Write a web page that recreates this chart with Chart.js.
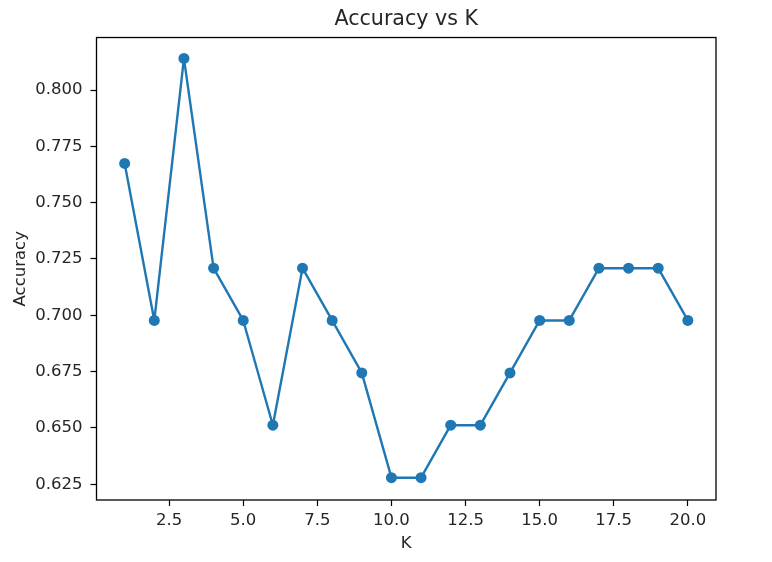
<!DOCTYPE html>
<html>
<head>
<meta charset="utf-8">
<script src="https://cdn.jsdelivr.net/npm/chart.js@4/dist/chart.umd.min.js"></script>
<style>
  html, body { margin: 0; padding: 0; background: #ffffff; }
  #wrap { width: 772px; height: 562px; }
</style>
</head>
<body>
<div id="wrap"><canvas id="c" width="772" height="562"></canvas></div>
<script>
// Data
const kValues = [1, 2, 3, 4, 5, 6, 7, 8, 9, 10, 11, 12, 13, 14, 15, 16, 17, 18, 19, 20];
const accuracy = [0.7674, 0.6977, 0.8140, 0.7209, 0.6977, 0.6512, 0.7209, 0.6977, 0.6744, 0.6279,
                  0.6279, 0.6512, 0.6512, 0.6744, 0.6977, 0.6977, 0.7209, 0.7209, 0.7209, 0.6977];
const xTicks = [2.5, 5.0, 7.5, 10.0, 12.5, 15.0, 17.5, 20.0];
const yTicks = [0.625, 0.650, 0.675, 0.700, 0.725, 0.750, 0.775, 0.800];
const chartTitle = 'Accuracy vs K';
const xTitle = 'K';
const yTitle = 'Accuracy';

const FONT = 'DejaVu Sans';
const TEXT = '#262626';

const framePlugin = {
  id: 'frame',
  afterDatasetsDraw(chart) {
    const a = chart.chartArea, ctx = chart.ctx;
    ctx.save();
    ctx.strokeStyle = '#000000';
    ctx.lineWidth = 1.3;
    ctx.strokeRect(a.left, a.top, a.right - a.left, a.bottom - a.top);
    ctx.restore();
  }
};

new Chart(document.getElementById('c'), {
  type: 'line',
  data: {
    datasets: [{
      data: kValues.map((k, i) => ({ x: k, y: accuracy[i] })),
      borderColor: '#1f77b4',
      backgroundColor: '#1f77b4',
      borderWidth: 2.4,
      borderJoinStyle: 'round',
      borderCapStyle: 'round',
      pointRadius: 5.5,
      pointBorderWidth: 0,
      pointBackgroundColor: '#1f77b4',
      tension: 0,
      fill: false
    }]
  },
  options: {
    responsive: false,
    animation: false,
    layout: { padding: { left: 0, right: 56, top: 0, bottom: 0 } },
    plugins: {
      legend: { display: false },
      tooltip: { enabled: false },
      title: {
        display: true,
        text: chartTitle,
        fullSize: false,
        color: TEXT,
        font: { family: FONT, size: 20.6, weight: 'normal', lineHeight: 1.2 },
        padding: { top: 7.2, bottom: 5.6 }
      }
    },
    scales: {
      x: {
        type: 'linear',
        min: 0.05,
        max: 20.95,
        afterBuildTicks(scale) { scale.ticks = xTicks.map(v => ({ value: v })); },
        afterFit(scale) { scale.height = 62; },
        ticks: {
          includeBounds: false,
          color: TEXT,
          padding: 4.7,
          maxRotation: 0,
          autoSkip: false,
          font: { family: FONT, size: 16.5 },
          callback: v => Number(v).toFixed(1)
        },
        grid: { display: true, drawOnChartArea: false, tickLength: 6, tickColor: '#000000', tickWidth: 1.2 },
        border: { display: false },
        title: {
          display: true,
          text: xTitle,
          color: TEXT,
          font: { family: FONT, size: 16.5, lineHeight: 1.2 },
          padding: { top: 0, bottom: 8.5 }
        }
      },
      y: {
        type: 'linear',
        min: 0.618,
        max: 0.8233,
        afterBuildTicks(scale) { scale.ticks = yTicks.map(v => ({ value: v })); },
        afterFit(scale) { scale.width = 96.5; },
        ticks: {
          includeBounds: false,
          color: TEXT,
          padding: 8,
          autoSkip: false,
          font: { family: FONT, size: 16.5 },
          callback: v => Number(v).toFixed(3)
        },
        grid: { display: true, drawOnChartArea: false, tickLength: 6, tickColor: '#000000', tickWidth: 1.2 },
        border: { display: false },
        title: {
          display: true,
          text: yTitle,
          color: TEXT,
          font: { family: FONT, size: 16.5, lineHeight: 1.2 },
          padding: { top: 11.1, bottom: 0 }
        }
      }
    }
  },
  plugins: [framePlugin]
});
</script>
</body>
</html>
